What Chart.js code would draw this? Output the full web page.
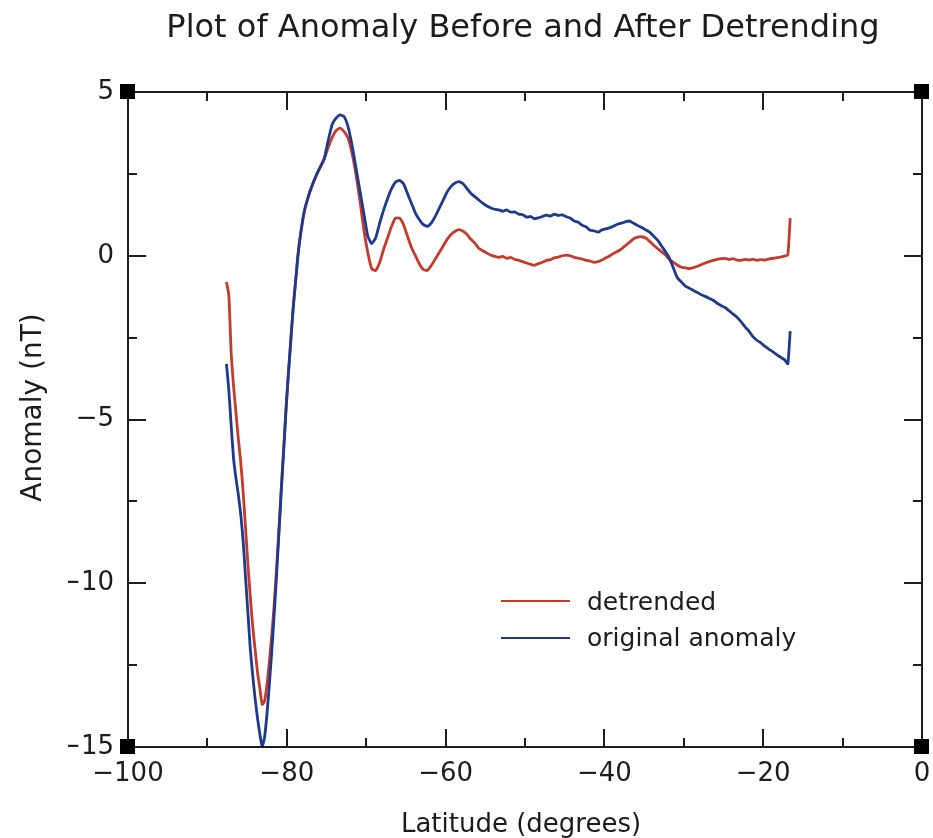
<!DOCTYPE html>
<html>
<head>
<meta charset="utf-8">
<script src="https://cdn.jsdelivr.net/npm/chart.js@4.4.1/dist/chart.umd.min.js"></script>
<style>
  html, body { margin: 0; padding: 0; background: #fff; }
  canvas { display: block; }
</style>
</head>
<body>
<canvas id="chart" width="933" height="838"></canvas>
<script>
// Latitude samples (degrees) shared by both profiles
const latitude = [
  -87.6,-87.3,-87.0,-86.7,-86.4,-86.1,-85.8,-85.5,-85.2,-84.9,-84.6,-84.3,-84.0,-83.7,-83.4,-83.1,
  -82.8,-82.5,-82.2,-81.9,-81.6,-81.3,-81.0,-80.7,-80.4,-80.1,-79.8,-79.5,-79.2,-78.9,-78.6,-78.3,
  -77.8,-77.3,-76.8,-76.3,-75.8,-75.3,-74.8,-74.3,-73.8,-73.3,-72.8,-72.3,-71.8,-71.3,-70.8,-70.3,
  -69.8,-69.3,-68.8,-68.3,-67.8,-67.3,-66.8,-66.3,-65.8,-65.3,-64.8,-64.3,-63.8,-63.3,-62.8,-62.3,
  -61.8,-61.3,-60.8,-60.3,-59.8,-59.3,-58.8,-58.3,-57.8,-57.3,-56.8,-56.3,-55.8,-55.3,-54.8,-54.3,-53.8,
  -53.3,-52.8,-52.3,-51.8,-51.3,-50.8,-50.3,-49.8,-49.3,-48.8,-48.3,-47.8,-47.3,-46.8,-46.3,-45.8,
  -45.3,-44.8,-44.3,-43.8,-43.3,-42.8,-42.3,-41.8,-41.3,-40.8,-40.3,-39.8,-39.3,-38.8,-38.3,-37.8,
  -37.3,-36.8,-36.3,-35.8,-35.3,-34.8,-34.3,-33.8,-33.3,-32.8,-32.3,-31.8,-31.3,-30.8,-30.3,-29.8,
  -29.3,-28.8,-28.3,-27.8,-27.3,-26.8,-26.3,-25.8,-25.3,-24.8,-24.3,-23.8,-23.3,-22.8,-22.3,-21.8,
  -21.3,-20.8,-20.3,-19.8,-19.3,-18.8,-18.3,-17.8,-17.3,-16.9,-16.6
];

// Anomaly after removing the regional trend (nT)
const detrended = [
  -0.8,-1.2,-3.0,-4.0,-4.8,-5.6,-6.3,-7.2,-8.3,-9.4,-10.4,-11.3,-12.0,-12.7,-13.2,-13.7,
  -13.6,-13.1,-12.4,-11.6,-10.7,-9.6,-8.4,-7.1,-5.9,-4.7,-3.6,-2.6,-1.6,-0.8,0.0,0.6,
  1.35,1.8,2.15,2.45,2.7,2.95,3.3,3.6,3.82,3.9,3.8,3.6,3.15,2.5,1.7,0.8,
  0.1,-0.4,-0.45,-0.2,0.2,0.55,0.9,1.15,1.15,0.95,0.6,0.25,0.0,-0.25,-0.42,-0.45,
  -0.3,-0.1,0.1,0.3,0.5,0.65,0.75,0.8,0.75,0.65,0.5,0.38,0.22,0.15,0.08,0.02,-0.02,
  -0.05,-0.02,-0.08,-0.05,-0.11,-0.14,-0.18,-0.22,-0.26,-0.29,-0.24,-0.20,-0.14,-0.12,-0.06,-0.04,
  0.00,0.02,0.00,-0.05,-0.07,-0.10,-0.14,-0.16,-0.20,-0.18,-0.13,-0.06,0.00,0.08,0.14,0.22,
  0.32,0.42,0.52,0.57,0.58,0.54,0.44,0.32,0.22,0.12,0.02,-0.12,-0.20,-0.29,-0.35,-0.37,
  -0.39,-0.36,-0.32,-0.27,-0.22,-0.18,-0.14,-0.11,-0.09,-0.08,-0.11,-0.09,-0.13,-0.14,-0.11,-0.13,
  -0.10,-0.14,-0.12,-0.13,-0.10,-0.08,-0.06,-0.04,-0.01,0.02,1.15
];

// Anomaly as measured, before detrending (nT)
const originalAnomaly = [
  -3.3,-4.1,-5.2,-6.2,-6.8,-7.3,-7.9,-8.7,-9.8,-10.9,-12.0,-12.8,-13.5,-14.1,-14.6,-15.0,
  -14.7,-14.0,-13.1,-12.1,-11.0,-9.8,-8.5,-7.2,-6.0,-4.7,-3.6,-2.6,-1.6,-0.8,0.0,0.6,
  1.35,1.8,2.15,2.45,2.7,2.95,3.5,4.0,4.2,4.3,4.25,3.95,3.4,2.7,2.0,1.3,
  0.6,0.37,0.55,1.0,1.4,1.75,2.05,2.25,2.3,2.2,1.9,1.6,1.3,1.1,0.95,0.9,
  1.0,1.2,1.45,1.7,1.95,2.12,2.22,2.26,2.2,2.05,1.9,1.8,1.7,1.6,1.52,1.46,1.42,
  1.40,1.36,1.40,1.33,1.34,1.27,1.25,1.18,1.20,1.13,1.16,1.20,1.24,1.21,1.27,1.23,
  1.25,1.19,1.15,1.06,1.02,0.93,0.88,0.78,0.76,0.72,0.79,0.82,0.86,0.91,0.97,1.00,
  1.04,1.06,0.99,0.92,0.86,0.79,0.72,0.60,0.48,0.30,0.12,-0.08,-0.38,-0.68,-0.80,-0.93,
  -0.99,-1.06,-1.12,-1.19,-1.24,-1.30,-1.36,-1.45,-1.52,-1.58,-1.68,-1.78,-1.88,-2.01,-2.17,-2.30,
  -2.47,-2.58,-2.66,-2.76,-2.85,-2.93,-3.02,-3.10,-3.18,-3.30,-2.30
];

const xTicks = [-100, -80, -60, -40, -20, 0];
const xMinorTicks = [-90, -70, -50, -30, -10];
const yTicks = [5, 0, -5, -10, -15];
const yMinorTicks = [2.5, -2.5, -7.5, -12.5];
const seriesNames = ['detrended', 'original anomaly'];
const chartTitle = 'Plot of Anomaly Before and After Detrending';
const xTitle = 'Latitude (degrees)';
const yTitle = 'Anomaly (nT)';

const FONT = '"DejaVu Sans", sans-serif';
const INK = '#1c1c1c';
const RED = '#c43b2b';
const BLUE = '#1d3a8e';

const fmt = v => (v < 0 ? '\u2212' + Math.abs(v) : String(v));
const points = vals => latitude.map((x, i) => ({ x, y: vals[i] }));

// Box frame with inward ticks on all sides, corner markers, titles and legend
const framePlugin = {
  id: 'frame',
  afterDatasetsDraw(chart) {
    const { ctx, chartArea: a, scales: { x, y } } = chart;
    ctx.save();
    ctx.strokeStyle = INK;
    ctx.lineWidth = 2;
    ctx.strokeRect(a.left, a.top, a.right - a.left, a.bottom - a.top);

    const major = 18, minor = 9;
    ctx.beginPath();
    const xt = (v, len) => {
      const px = Math.round(x.getPixelForValue(v));
      ctx.moveTo(px, a.bottom); ctx.lineTo(px, a.bottom - len);
      ctx.moveTo(px, a.top); ctx.lineTo(px, a.top + len);
    };
    const yt = (v, len) => {
      const py = Math.round(y.getPixelForValue(v));
      ctx.moveTo(a.left, py); ctx.lineTo(a.left + len, py);
      ctx.moveTo(a.right, py); ctx.lineTo(a.right - len, py);
    };
    xTicks.forEach(v => xt(v, major));
    xMinorTicks.forEach(v => xt(v, minor));
    yTicks.forEach(v => yt(v, major));
    yMinorTicks.forEach(v => yt(v, minor));
    ctx.stroke();

    ctx.fillStyle = '#000';
    [[a.left, a.top], [a.right, a.top], [a.left, a.bottom], [a.right, a.bottom]].forEach(([cx, cy]) => {
      ctx.fillRect(cx - 8, cy - 8, 15, 15);
    });

    // titles
    ctx.fillStyle = INK;
    ctx.textAlign = 'center';
    ctx.textBaseline = 'alphabetic';
    ctx.font = '32px ' + FONT;
    ctx.fillText(chartTitle, (a.left + a.right) / 2 - 2, 37);
    ctx.font = '26px ' + FONT;
    ctx.fillText(xTitle, (a.left + a.right) / 2 - 4, 832);
    ctx.save();
    ctx.translate(41, (a.top + a.bottom) / 2 - 12);
    ctx.rotate(-Math.PI / 2);
    ctx.font = '28px ' + FONT;
    ctx.fillText(yTitle, 0, 0);
    ctx.restore();

    // legend
    const legend = [[seriesNames[0], RED, 601, 610], [seriesNames[1], BLUE, 638, 646]];
    ctx.textAlign = 'left';
    ctx.font = '25px ' + FONT;
    legend.forEach(([label, color, ly, base]) => {
      ctx.strokeStyle = color;
      ctx.lineWidth = 2.2;
      ctx.beginPath();
      ctx.moveTo(501, ly); ctx.lineTo(570, ly);
      ctx.stroke();
      ctx.fillStyle = INK;
      ctx.fillText(label, 587, base);
    });
    ctx.restore();
  }
};

new Chart(document.getElementById('chart'), {
  type: 'line',
  data: {
    datasets: [
      { label: seriesNames[1], data: points(originalAnomaly), borderColor: BLUE, borderWidth: 2.8, pointRadius: 0, tension: 0.15 },
      { label: seriesNames[0], data: points(detrended), borderColor: RED, borderWidth: 2.8, pointRadius: 0, tension: 0.15 }
    ]
  },
  options: {
    responsive: false,
    animation: false,
    events: [],
    layout: { padding: { left: 68, right: 11, top: 92, bottom: 41 } },
    plugins: { legend: { display: false }, title: { display: false }, tooltip: { enabled: false } },
    scales: {
      x: {
        type: 'linear', min: -100, max: 0,
        grid: { display: false, drawTicks: false },
        border: { display: false },
        afterBuildTicks: s => { s.ticks = xTicks.map(value => ({ value })); },
        afterFit: s => { s.height = 50; s.paddingLeft = 0; s.paddingRight = 0; },
        ticks: { color: INK, padding: 12, maxRotation: 0, autoSkip: false, font: { family: FONT, size: 26 }, callback: v => fmt(v) }
      },
      y: {
        type: 'linear', min: -15, max: 5,
        grid: { display: false, drawTicks: false },
        border: { display: false },
        afterBuildTicks: s => { s.ticks = yTicks.map(value => ({ value })); },
        afterFit: s => { s.width = 60; s.paddingTop = 0; s.paddingBottom = 0; },
        ticks: { color: INK, padding: 14, autoSkip: false, font: { family: FONT, size: 26 }, callback: v => fmt(v) }
      }
    }
  },
  plugins: [framePlugin]
});
</script>
</body>
</html>
